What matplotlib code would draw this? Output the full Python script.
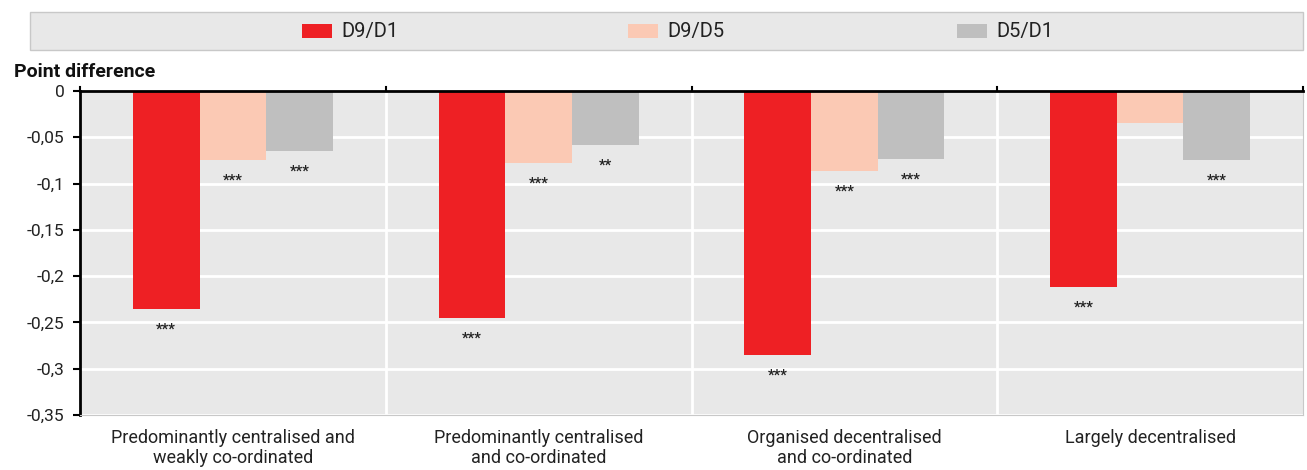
import matplotlib
matplotlib.use("Agg")
import matplotlib.pyplot as plt
import numpy as np
from matplotlib.patches import Rectangle

categories = ["Predominantly centralised and\nweakly co-ordinated",
              "Predominantly centralised\nand co-ordinated",
              "Organised decentralised\nand co-ordinated",
              "Largely decentralised"]
series_names = ["D9/D1", "D9/D5", "D5/D1"]
d9_d1 = [-0.235, -0.245, -0.285, -0.212]
d9_d5 = [-0.0745, -0.078, -0.086, -0.0345]
d5_d1 = [-0.065, -0.058, -0.0735, -0.0745]
signif = [["***", "***", "***", "***"],
          ["***", "***", "***", ""],
          ["***", "**", "***", "***"]]
yticks = [0, -0.05, -0.1, -0.15, -0.2, -0.25, -0.3, -0.35]
ytick_labels = ["0", "-0,05", "-0,1", "-0,15", "-0,2", "-0,25", "-0,3", "-0,35"]

colors = ["#ee2024", "#fbc9b4", "#bfbfbf"]
plt.rcParams['font.family'] = ['Roboto', 'DejaVu Sans']

W, H = 1307, 470
fig = plt.figure(figsize=(W / 100, H / 100), dpi=100)
ax = fig.add_axes([80/W, 1-415/H, (1303-80)/W, (415-91)/H])
ax.set_facecolor("#e8e8e8")

x = np.arange(len(categories))
w = 0.218
values = [d9_d1, d9_d5, d5_d1]
for i, (vals, c) in enumerate(zip(values, colors)):
    pos = x + (i - 1) * w
    ax.bar(pos, vals, width=w, color=c, zorder=3)
    for p, v, s in zip(pos, vals, signif[i]):
        if s:
            ax.text(p, v - 0.0225, s, ha="center", va="center", fontsize=10.5,
                    fontweight="bold", color="#222222", zorder=4)

ax.set_xlim(-0.5, len(categories) - 0.5)
ax.set_ylim(-0.35, 0)
ax.set_yticks(yticks)
ax.set_yticklabels(ytick_labels, fontsize=12.5, color="#222222")
ax.yaxis.grid(True, color="white", linewidth=2, zorder=1)
for b in np.arange(0.5, len(categories) - 0.5, 1):
    ax.axvline(b, color="white", linewidth=2, zorder=1)

ax.set_xticks(x)
ax.set_xticklabels(categories, fontsize=13, color="#222222", linespacing=1.15)
ax.tick_params(axis="x", length=0, pad=10)
ax.tick_params(axis="y", length=5, width=1.5, color="black", pad=6)

# top zero line with ticks at category boundaries
ax.axhline(0, color="black", linewidth=2, zorder=5, clip_on=False)
for b in np.arange(-0.5, len(categories), 1):
    ax.plot([b, b], [0, 0.004], color="black", linewidth=1.5, clip_on=False, zorder=5)

ax.spines["top"].set_visible(False)
ax.spines["left"].set_color("black")
ax.spines["left"].set_linewidth(2)
ax.spines["bottom"].set_color("#c8c8c8")
ax.spines["right"].set_color("#c8c8c8")

fig.text(14/W, 1-72/H, "Point difference", fontsize=14, fontweight="bold",
         va="center", ha="left", color="#111111")

# legend box
fig.add_artist(Rectangle((30/W, 1-50/H), (1303-30)/W, 38/H, transform=fig.transFigure,
                         facecolor="#e8e8e8", edgecolor="#c8c8c8", linewidth=1))
patch_x = [302, 628, 957]
for px, c, n in zip(patch_x, colors, series_names):
    fig.add_artist(Rectangle((px/W, 1-38/H), 30/W, 14/H, transform=fig.transFigure,
                             facecolor=c, edgecolor="none"))
    fig.text((px + 39)/W, 1-31/H, n, fontsize=14.5, va="center", ha="left", color="#222222")

fig.savefig("out.png", dpi=100)
